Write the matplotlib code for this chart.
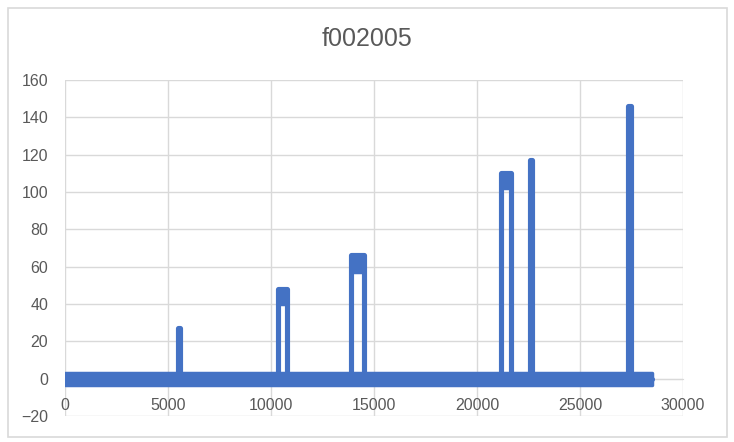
import matplotlib
matplotlib.use("Agg")
import matplotlib.pyplot as plt
from matplotlib.patches import Rectangle

# pulses (sample index, value)
pulse_start = [5500, 10350, 13860, 21180, 22570, 27340]
pulse_end = [5590, 10780, 14520, 21640, 22690, 27460]
pulse_low = [21, 40, 57, 102, 111, 139]
pulse_high = [27, 48, 66, 110, 117, 146]
baseline_end = 28500
noise_low = -3.2
noise_high = 2.8

x_ticks = [0, 5000, 10000, 15000, 20000, 25000, 30000]
y_ticks = [-20, 0, 20, 40, 60, 80, 100, 120, 140, 160]
title = "f002005"

blue = "#4472C4"
grey = "#D9D9D9"
txt = "#595959"
plt.rcParams['font.family'] = ['Liberation Sans', 'DejaVu Sans']

fig = plt.figure(figsize=(7.34, 4.42), dpi=100)
ax = fig.add_axes([65/734, 1-416/442, 618/734, 336/442])

# chart border
fig.patches.append(Rectangle((8/734, 5/442), 719/734, 429/442, transform=fig.transFigure,
                             fill=False, edgecolor=grey, linewidth=1.2))

# trace: baseline with vertical jumps up to each plateau
tx = [0]
ty = [0]
for s, e, h in zip(pulse_start, pulse_end, pulse_high):
    tx += [s, s, e, e]
    ty += [0, h, h, 0]
tx.append(baseline_end)
ty.append(0)
ax.plot(tx, ty, color=blue, lw=3.7, solid_capstyle='round', solid_joinstyle='round', zorder=3)

# noisy baseline band and plateau bands
ax.fill_between([0, baseline_end], noise_low, noise_high, color=blue, lw=2.5, zorder=3)
for s, e, lo, h in zip(pulse_start, pulse_end, pulse_low, pulse_high):
    ax.fill_between([s, e], lo, h, color=blue, lw=2.5, zorder=3)

ax.set_xlim(0, 30000)
ax.set_ylim(-20, 160)
ax.set_xticks(x_ticks)
ax.set_yticks(y_ticks)
ax.grid(True, color=grey, lw=1.0)
ax.set_axisbelow(True)
for side in ['top', 'right', 'left']:
    ax.spines[side].set_visible(False)
ax.spines['bottom'].set_position(('data', 0))
ax.spines['bottom'].set_color(grey)
ax.tick_params(axis='both', length=0, labelsize=11.5, labelcolor=txt)
ax.tick_params(axis='y', pad=12)
ax.tick_params(axis='x', pad=14)

fig.text(367/734, 1-39/442, title, ha='center', va='center', fontsize=18, color=txt)

fig.savefig("out.png", dpi=100)
